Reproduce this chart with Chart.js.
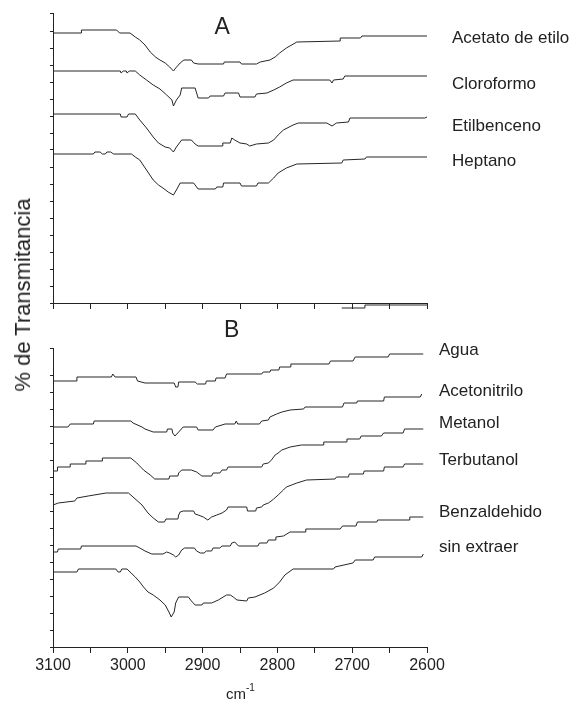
<!DOCTYPE html>
<html>
<head>
<meta charset="utf-8">
<script src="https://cdn.jsdelivr.net/npm/chart.js@4.4.1/dist/chart.umd.min.js"></script>
<style>
  html, body { margin: 0; padding: 0; background: #fff; }
  #wrap { position: relative; width: 573px; height: 707px; }
  canvas { position: absolute; left: 0; }
  #chartA { top: 0; }
  #chartB { top: 320px; }
  #ytitle {
    position: absolute; left: 23px; top: 295px;
    transform: translate(-50%, -50%) rotate(-90deg);
    font: 22px "Liberation Sans", Arial, sans-serif; color: #222; white-space: nowrap;
  }
</style>
</head>
<body>
<div id="wrap">
  <canvas id="chartA" width="573" height="320"></canvas>
  <canvas id="chartB" width="573" height="387"></canvas>
  <div id="ytitle">% de Transmitancia</div>
</div>
<script>
// eje x compartido, número de onda (cm-1), invertido
const xMin = 2600, xMax = 3100;
const xMajor = [3100, 3000, 2900, 2800, 2700, 2600];

// Panel A : [número de onda, % T desplazado]
const acetato = [[3100,270],[3062,270],[3062,273],[3015,273],[3011,270],[2997,270],[2990,266],[2984,263],[2977,258],[2970,251],[2963,246],[2957,243],[2950,240],[2944,236],[2939,232],[2936,235],[2930,240],[2925,243],[2915,243],[2912,240],[2906,239],[2872,239],[2871,241],[2850,241],[2848,239],[2828,239],[2823,241],[2810,243],[2803,246],[2797,250],[2788,255],[2774,261],[2716,262],[2716,265],[2689,265],[2687,267],[2600,267]];
const cloroformo = [[3100,232],[3010,232],[3009,230],[3006,232],[3002,232],[3001,230],[2998,232],[2990,232],[2984,228],[2975,223],[2966,218],[2957,214],[2948,208],[2941,203],[2939,197],[2935,203],[2930,208],[2928,215],[2910,215],[2906,205],[2892,205],[2890,207],[2872,207],[2870,210],[2852,210],[2850,206],[2830,206],[2828,209],[2814,210],[2805,213],[2797,216],[2788,220],[2779,223],[2730,223],[2727,220],[2725,223],[2712,224],[2710,227],[2600,227]];
const etilbenceno = [[3100,189],[3010,189],[3009,186],[3001,186],[2999,189],[2990,189],[2984,183],[2975,175],[2966,166],[2959,160],[2950,156],[2944,155],[2939,151],[2935,156],[2928,163],[2915,163],[2910,159],[2906,157],[2874,157],[2873,160],[2863,160],[2861,165],[2857,163],[2850,160],[2841,159],[2837,157],[2828,159],[2812,160],[2805,163],[2799,168],[2792,173],[2779,178],[2772,180],[2734,180],[2727,177],[2721,180],[2705,181],[2703,185],[2603,185],[2600,186]];
const heptano = [[3100,149],[3046,149],[3044,151],[3037,151],[3034,149],[3030,149],[3028,151],[3023,151],[3019,149],[2995,149],[2990,146],[2984,143],[2975,133],[2966,123],[2959,118],[2953,115],[2946,111],[2939,108],[2935,113],[2930,120],[2912,120],[2906,114],[2883,114],[2881,116],[2873,116],[2872,120],[2850,120],[2848,117],[2828,117],[2826,120],[2812,120],[2805,125],[2799,130],[2788,135],[2774,139],[2714,140],[2712,143],[2683,144],[2681,146],[2600,146]];
// trazo suelto bajo el eje del panel A
const restoA = [[2714,-5],[2683,-5],[2683,-2],[2600,-2]];

// Panel B
const agua = [[3100,266],[3068,266],[3068,270],[3022,270],[3020,273],[3017,270],[2989,270],[2987,266],[2977,264],[2938,264],[2936,260],[2933,260],[2932,265],[2910,265],[2907,263],[2896,263],[2895,266],[2883,266],[2882,269],[2870,269],[2868,273],[2821,273],[2819,275],[2810,275],[2809,277],[2798,277],[2797,280],[2783,280],[2782,283],[2731,283],[2729,286],[2699,286],[2696,290],[2652,290],[2650,293],[2605,293]];
const acetonitrilo = [[3100,220],[3080,220],[3077,223],[3046,223],[3045,226],[2996,226],[2993,224],[2981,220],[2977,218],[2966,215],[2948,215],[2947,218],[2941,218],[2940,214],[2937,211],[2932,215],[2926,220],[2908,220],[2906,217],[2886,217],[2883,220],[2870,223],[2857,223],[2855,226],[2853,223],[2824,223],[2821,226],[2812,227],[2810,230],[2801,233],[2794,235],[2783,237],[2765,238],[2763,240],[2713,240],[2711,244],[2694,244],[2693,246],[2658,246],[2657,250],[2609,250],[2607,253]];
const metanol = [[3100,176],[3094,176],[3094,180],[3077,180],[3077,183],[3056,183],[3056,186],[3034,186],[3034,189],[2996,189],[2988,184],[2979,177],[2970,172],[2964,168],[2945,168],[2944,171],[2933,171],[2932,174],[2928,177],[2915,177],[2908,175],[2901,171],[2888,171],[2886,174],[2877,174],[2874,177],[2868,177],[2866,180],[2821,180],[2819,183],[2812,184],[2808,187],[2803,192],[2799,194],[2794,197],[2783,200],[2768,202],[2739,202],[2738,205],[2708,205],[2707,208],[2690,208],[2688,211],[2661,211],[2658,214],[2632,214],[2630,218],[2605,218]];
const terbutanol = [[3100,142],[3093,144],[3071,146],[3068,149],[3053,151],[3029,154],[2999,154],[2993,150],[2981,142],[2973,134],[2966,129],[2959,125],[2951,125],[2949,128],[2933,128],[2932,132],[2930,135],[2926,136],[2912,136],[2910,133],[2906,132],[2899,130],[2893,127],[2888,130],[2881,132],[2874,134],[2868,137],[2866,140],[2841,140],[2840,136],[2829,136],[2828,139],[2821,140],[2819,142],[2812,144],[2810,145],[2805,148],[2799,152],[2792,157],[2788,160],[2781,162],[2774,164],[2761,167],[2723,168],[2721,170],[2705,170],[2704,173],[2685,173],[2684,176],[2658,176],[2657,180],[2632,180],[2630,183],[2605,183]];
const benzaldehido = [[3100,95],[3094,95],[3093,98],[3063,98],[3062,101],[2989,101],[2984,99],[2977,96],[2968,93],[2953,93],[2948,95],[2944,94],[2939,92],[2936,90],[2932,92],[2928,97],[2924,99],[2911,99],[2908,96],[2903,94],[2898,94],[2895,96],[2888,96],[2886,99],[2877,99],[2874,101],[2863,101],[2861,104],[2857,105],[2852,101],[2826,101],[2824,104],[2814,104],[2812,107],[2803,107],[2802,110],[2792,111],[2783,115],[2763,115],[2762,118],[2716,118],[2713,121],[2695,121],[2693,125],[2667,125],[2666,127],[2624,127],[2623,130],[2605,130]];
const sinExtraer = [[3100,75],[3068,75],[3066,78],[3016,78],[3013,75],[3010,75],[3008,78],[3001,78],[2997,75],[2990,70],[2984,65],[2979,60],[2973,55],[2966,52],[2957,47],[2950,42],[2945,35],[2942,30],[2938,35],[2936,44],[2932,50],[2919,50],[2915,46],[2910,42],[2901,42],[2899,44],[2888,44],[2879,47],[2868,52],[2863,52],[2859,50],[2854,47],[2841,46],[2839,49],[2830,50],[2817,54],[2805,59],[2797,65],[2790,72],[2779,78],[2725,78],[2723,80],[2699,84],[2696,87],[2672,87],[2670,90],[2607,90],[2605,93]];

// nombres y altura (en unidades del eje y) de cada rótulo
const namesA = ['Acetato de etilo', 'Cloroformo', 'Etilbenceno', 'Heptano'];
const levelsA = [265, 219, 177, 142];
const namesB = ['Agua', 'Acetonitrilo', 'Metanol', 'Terbutanol', 'Benzaldehido', 'sin extraer'];
const levelsB = [297, 256, 224, 187, 135, 100];

const fam = '"Liberation Sans", Arial, sans-serif';
const ink = '#222';

function serie(d, extra) {
  return Object.assign({
    data: d.map(([x, y]) => ({ x, y })),
    borderColor: '#262626', borderWidth: 1, pointRadius: 0, tension: 0, fill: false
  }, extra || {});
}

// rótulos a la derecha, letra del panel, unidad
const rotulos = {
  id: 'rotulos',
  afterDatasetsDraw(chart, args, o) {
    const { ctx, chartArea, scales } = chart;
    ctx.save();
    ctx.fillStyle = ink;
    ctx.font = '17px ' + fam;
    ctx.textBaseline = 'middle';
    o.names.forEach((n, i) => {
      ctx.fillText(n, chartArea.right + o.dx, scales.y.getPixelForValue(o.levels[i]));
    });
    ctx.font = '23px ' + fam;
    ctx.textAlign = 'center';
    ctx.fillText(o.letter, scales.x.getPixelForValue(o.letterX), chartArea.top + o.letterDy);
    if (o.unit) {
      const cx = (chartArea.left + chartArea.right) / 2;
      ctx.textBaseline = 'alphabetic';
      ctx.textAlign = 'right';
      ctx.font = '15px ' + fam;
      ctx.fillText('cm', cx + 6, chartArea.bottom + 52);
      ctx.textAlign = 'left';
      ctx.font = '10px ' + fam;
      ctx.fillText('-1', cx + 6, chartArea.bottom + 44);
    }
    ctx.restore();
  }
};

function ejeX(labels, h) {
  return {
    type: 'linear', min: xMin, max: xMax, reverse: true,
    ticks: {
      display: labels, stepSize: 50, autoSkip: false, maxRotation: 0, padding: 3,
      color: ink, font: { size: 16, family: fam },
      callback: v => xMajor.includes(v) ? String(v) : ''
    },
    grid: { drawOnChartArea: false, drawTicks: true, tickLength: 6, color: ink },
    border: { display: true, color: ink, width: 1 },
    afterFit: s => { s.height = h; }
  };
}

function ejeY(max) {
  return {
    type: 'linear', min: 0, max: max,
    ticks: { display: false, stepSize: 17 },
    grid: { drawOnChartArea: false, drawTicks: true, tickLength: 3, color: ink },
    border: { display: true, color: ink, width: 1 },
    afterFit: s => { s.width = 10; }
  };
}

new Chart(document.getElementById('chartA'), {
  type: 'line',
  data: {
    datasets: [
      serie(acetato), serie(cloroformo), serie(etilbenceno), serie(heptano),
      serie(restoA, { clip: false })
    ]
  },
  options: {
    responsive: false, animation: false, devicePixelRatio: 1,
    layout: { padding: { left: 43, right: 146, top: 13, bottom: 0 } },
    scales: { x: ejeX(false, 17), y: ejeY(290) },
    plugins: {
      legend: { display: false }, tooltip: { enabled: false },
      rotulos: { names: namesA, levels: levelsA, dx: 25, letter: 'A', letterX: 2874, letterDy: 15 }
    }
  },
  plugins: [rotulos]
});

new Chart(document.getElementById('chartB'), {
  type: 'line',
  data: {
    datasets: [agua, acetonitrilo, metanol, terbutanol, benzaldehido, sinExtraer].map(d => serie(d))
  },
  options: {
    responsive: false, animation: false, devicePixelRatio: 1,
    layout: { padding: { left: 43, right: 146, top: 28, bottom: 0 } },
    scales: { x: ejeX(true, 60), y: ejeY(299) },
    plugins: {
      legend: { display: false }, tooltip: { enabled: false },
      rotulos: { names: namesB, levels: levelsB, dx: 12, letter: 'B', letterX: 2861, letterDy: -17, unit: true }
    }
  },
  plugins: [rotulos]
});
</script>
</body>
</html>
